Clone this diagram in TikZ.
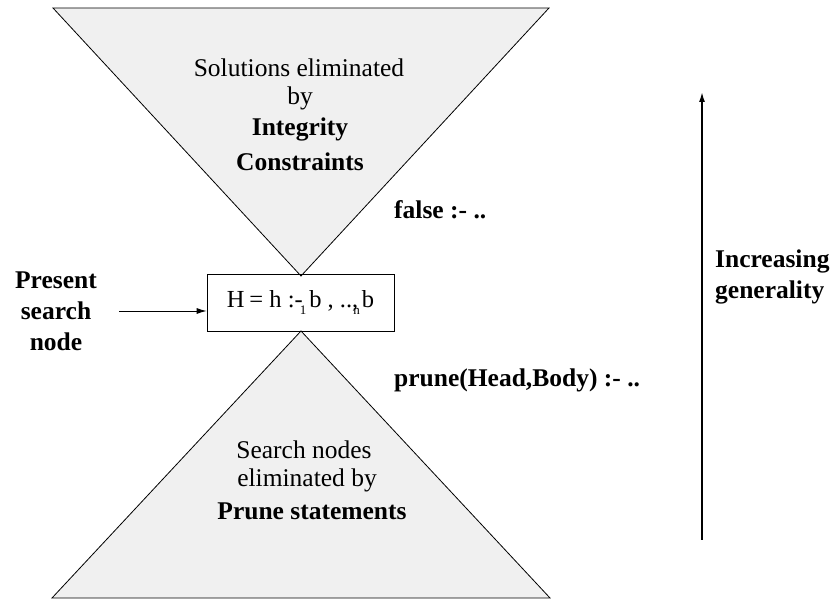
\documentclass[tikz,border=0pt]{standalone}
\usepackage{fontspec}
\setmainfont{Liberation Serif}
\usetikzlibrary{arrows.meta}
\begin{document}
\begin{tikzpicture}[x=1pt,y=1pt,
  tri/.style={draw=black,fill=black!6,line width=0.8pt,line join=miter},
  txt/.style={font=\fontsize{25.5}{31}\selectfont,align=center,inner sep=0pt},
  btxt/.style={font=\fontsize{25.5}{31}\selectfont\bfseries,align=center,inner sep=0pt},
  arr/.style={-{Latex[length=10pt,width=6pt]}}]
\useasboundingbox (0,0) rectangle (840,599);
% triangles
\coordinate (tl) at (53,591);
\coordinate (tr) at (549,591);
\coordinate (ta) at (301,323);
\coordinate (ba) at (301,268);
\coordinate (bl) at (52,1);
\coordinate (br) at (550,1);
\draw[tri] (tl) -- (tr) -- (ta) -- cycle;
\draw[tri] (ba) -- (br) -- (bl) -- cycle;
% box
\node[draw,line width=0.8pt,minimum width=187pt,minimum height=57pt,inner sep=0pt,
  font=\fontsize{24.5}{30}\selectfont] (box) at (300.5,296.5)
  {H\kern-0.05em{} = h :-\kern-0.12em\raisebox{-0.25em}{\fontsize{13}{13}\selectfont 1}\kern0.12em b , ..,\kern-0.2em\raisebox{-0.25em}{\fontsize{13}{13}\selectfont n}\kern0.08em b};
% top text
\node[txt] (t1) at (299,531) {Solutions eliminated};
\node[txt] (t2) at (300,501) {by};
\node[btxt] (t3) at (300,470) {Integrity};
\node[btxt] (t4) at (300,437) {Constraints};
\node[btxt,anchor=west] (fl) at (394,389) {false :- ..};
% bottom text
\node[txt] (b1) at (304,149) {Search nodes};
\node[txt] (b2) at (307,119) {eliminated by};
\node[btxt] (b3) at (312,88) {Prune statements};
\node[btxt,anchor=west] (pr) at (394,219) {prune(Head,Body) :- ..};
% present search node
\node[btxt] (ps) at (56,288) {Present\\search\\node};
\coordinate (pa) at (119,288);
\draw[arr,line width=0.8pt] (pa) -- (pa -| box.west);
% increasing generality
\coordinate (g0) at (702,59);
\coordinate (g1) at (702,507);
\draw[arr,line width=1.6pt] (g0) -- (g1);
\node[btxt,align=left,anchor=west] (ig) at (715,322) {Increasing\\generality};
\end{tikzpicture}
\end{document}
